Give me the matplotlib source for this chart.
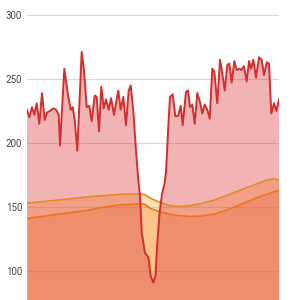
import matplotlib
matplotlib.use("Agg")
import matplotlib.pyplot as plt

# red series (noisy, with a deep dip)
t_red = [0, 2.3, 5, 7.3, 9.7, 12.3, 15, 17.7, 20.3, 23, 26.3, 29, 31.7, 33, 37.3, 40.7,
         43.7, 45.7, 47.7, 50.3, 54.7, 57, 59.7, 62.3, 64.7, 67.7, 69.7, 72, 74.3, 76.7,
         79, 81.7, 84, 87, 89, 91.3, 93.7, 96.3, 99, 101.7, 103.7, 106.3, 109, 111.3, 113,
         114.7, 118, 121.3, 123.7, 126.3, 128.5, 130, 132.5, 135, 137.5, 139, 140.3, 141.3,
         143, 145.7, 148.3, 151, 153.7, 155.7, 159, 161, 163, 165.3, 167.7, 170.3, 173,
         175.3, 177.7, 180.3, 182.7, 185.3, 187.3, 190.3, 193, 195, 197.7, 200.3, 202.3,
         204.7, 207.3, 209.7, 212.3, 214.3, 217, 219.7, 222, 224, 226.3, 229, 232, 234.7,
         237, 239.7, 242, 244.3, 247, 249.3, 252]
v_red = [226, 220, 228, 222, 231, 215, 239, 218, 224, 225, 227, 226, 222, 198, 258, 239,
         226, 228, 218, 194, 271, 257, 228, 229, 217, 237, 236, 209, 244, 227,
         234, 226, 235, 222, 231, 241, 226, 236, 214, 241, 245, 225, 194, 171, 159,
         130, 114, 111, 96, 91, 96, 118, 145, 160, 168, 178, 197, 213,
         236, 238, 221, 221, 229, 214, 240, 241, 228, 230, 215, 239, 232,
         223, 230, 226, 219, 258, 256, 231, 265, 256, 241, 261, 262,
         247, 264, 257, 258, 257, 260, 248, 264, 258, 265, 251, 267, 265,
         253, 263, 262, 223, 231, 225, 234]

# upper orange series
t_up = [0, 33, 63, 93, 113, 118, 123, 133, 143, 153, 163, 173, 188, 203, 223, 238, 246, 252]
v_up = [153, 155.5, 158, 159.8, 160.3, 159.5, 157, 153.5, 151, 150.3, 151, 152.5, 155.5,
        160, 166, 170.5, 172, 171]

# lower orange series
t_low = [0, 33, 63, 73, 93, 113, 118, 123, 133, 148, 163, 173, 188, 203, 223, 238, 252]
v_low = [141, 144.5, 147.6, 149.5, 151.5, 152.5, 152, 149, 146, 143.5, 142.5, 142.8,
         144.5, 148.5, 155, 159.5, 163]

yticks = [100, 150, 200, 250, 300]

fig = plt.figure(figsize=(3, 3), dpi=100)
ax = fig.add_axes([27 / 300, 0, 252 / 300, 1])

ax.fill_between(t_up, 0, v_up, color=(250/255, 170/255, 50/255), alpha=0.35, lw=0, zorder=2)
ax.fill_between(t_low, 0, v_low, color=(245/255, 130/255, 40/255), alpha=0.3, lw=0, zorder=2)
ax.fill_between(t_red, 0, v_red, color=(222/255, 50/255, 55/255), alpha=0.37, lw=0, zorder=2)

ax.plot(t_up, v_up, color="#E58A25", lw=1.2, zorder=3)
ax.plot(t_low, v_low, color="#EC7420", lw=1.2, zorder=3)
ax.plot(t_red, v_red, color="#D32F2F", lw=1.4, zorder=4, solid_joinstyle="round")

ax.set_xlim(0, 252)
ax.set_ylim(77.3, 311.7)
ax.set_yticks(yticks)
ax.set_xticks([])
ax.grid(axis="y", color="#D8D8D8", lw=0.8, zorder=1)
ax.set_axisbelow(True)
for s in ax.spines.values():
    s.set_visible(False)
ax.tick_params(axis="y", length=0, pad=3.5, labelsize=7, labelcolor="#444444")
for lab in ax.get_yticklabels():
    lab.set_family(["Roboto", "DejaVu Sans"])

fig.savefig("out.png", dpi=100)
